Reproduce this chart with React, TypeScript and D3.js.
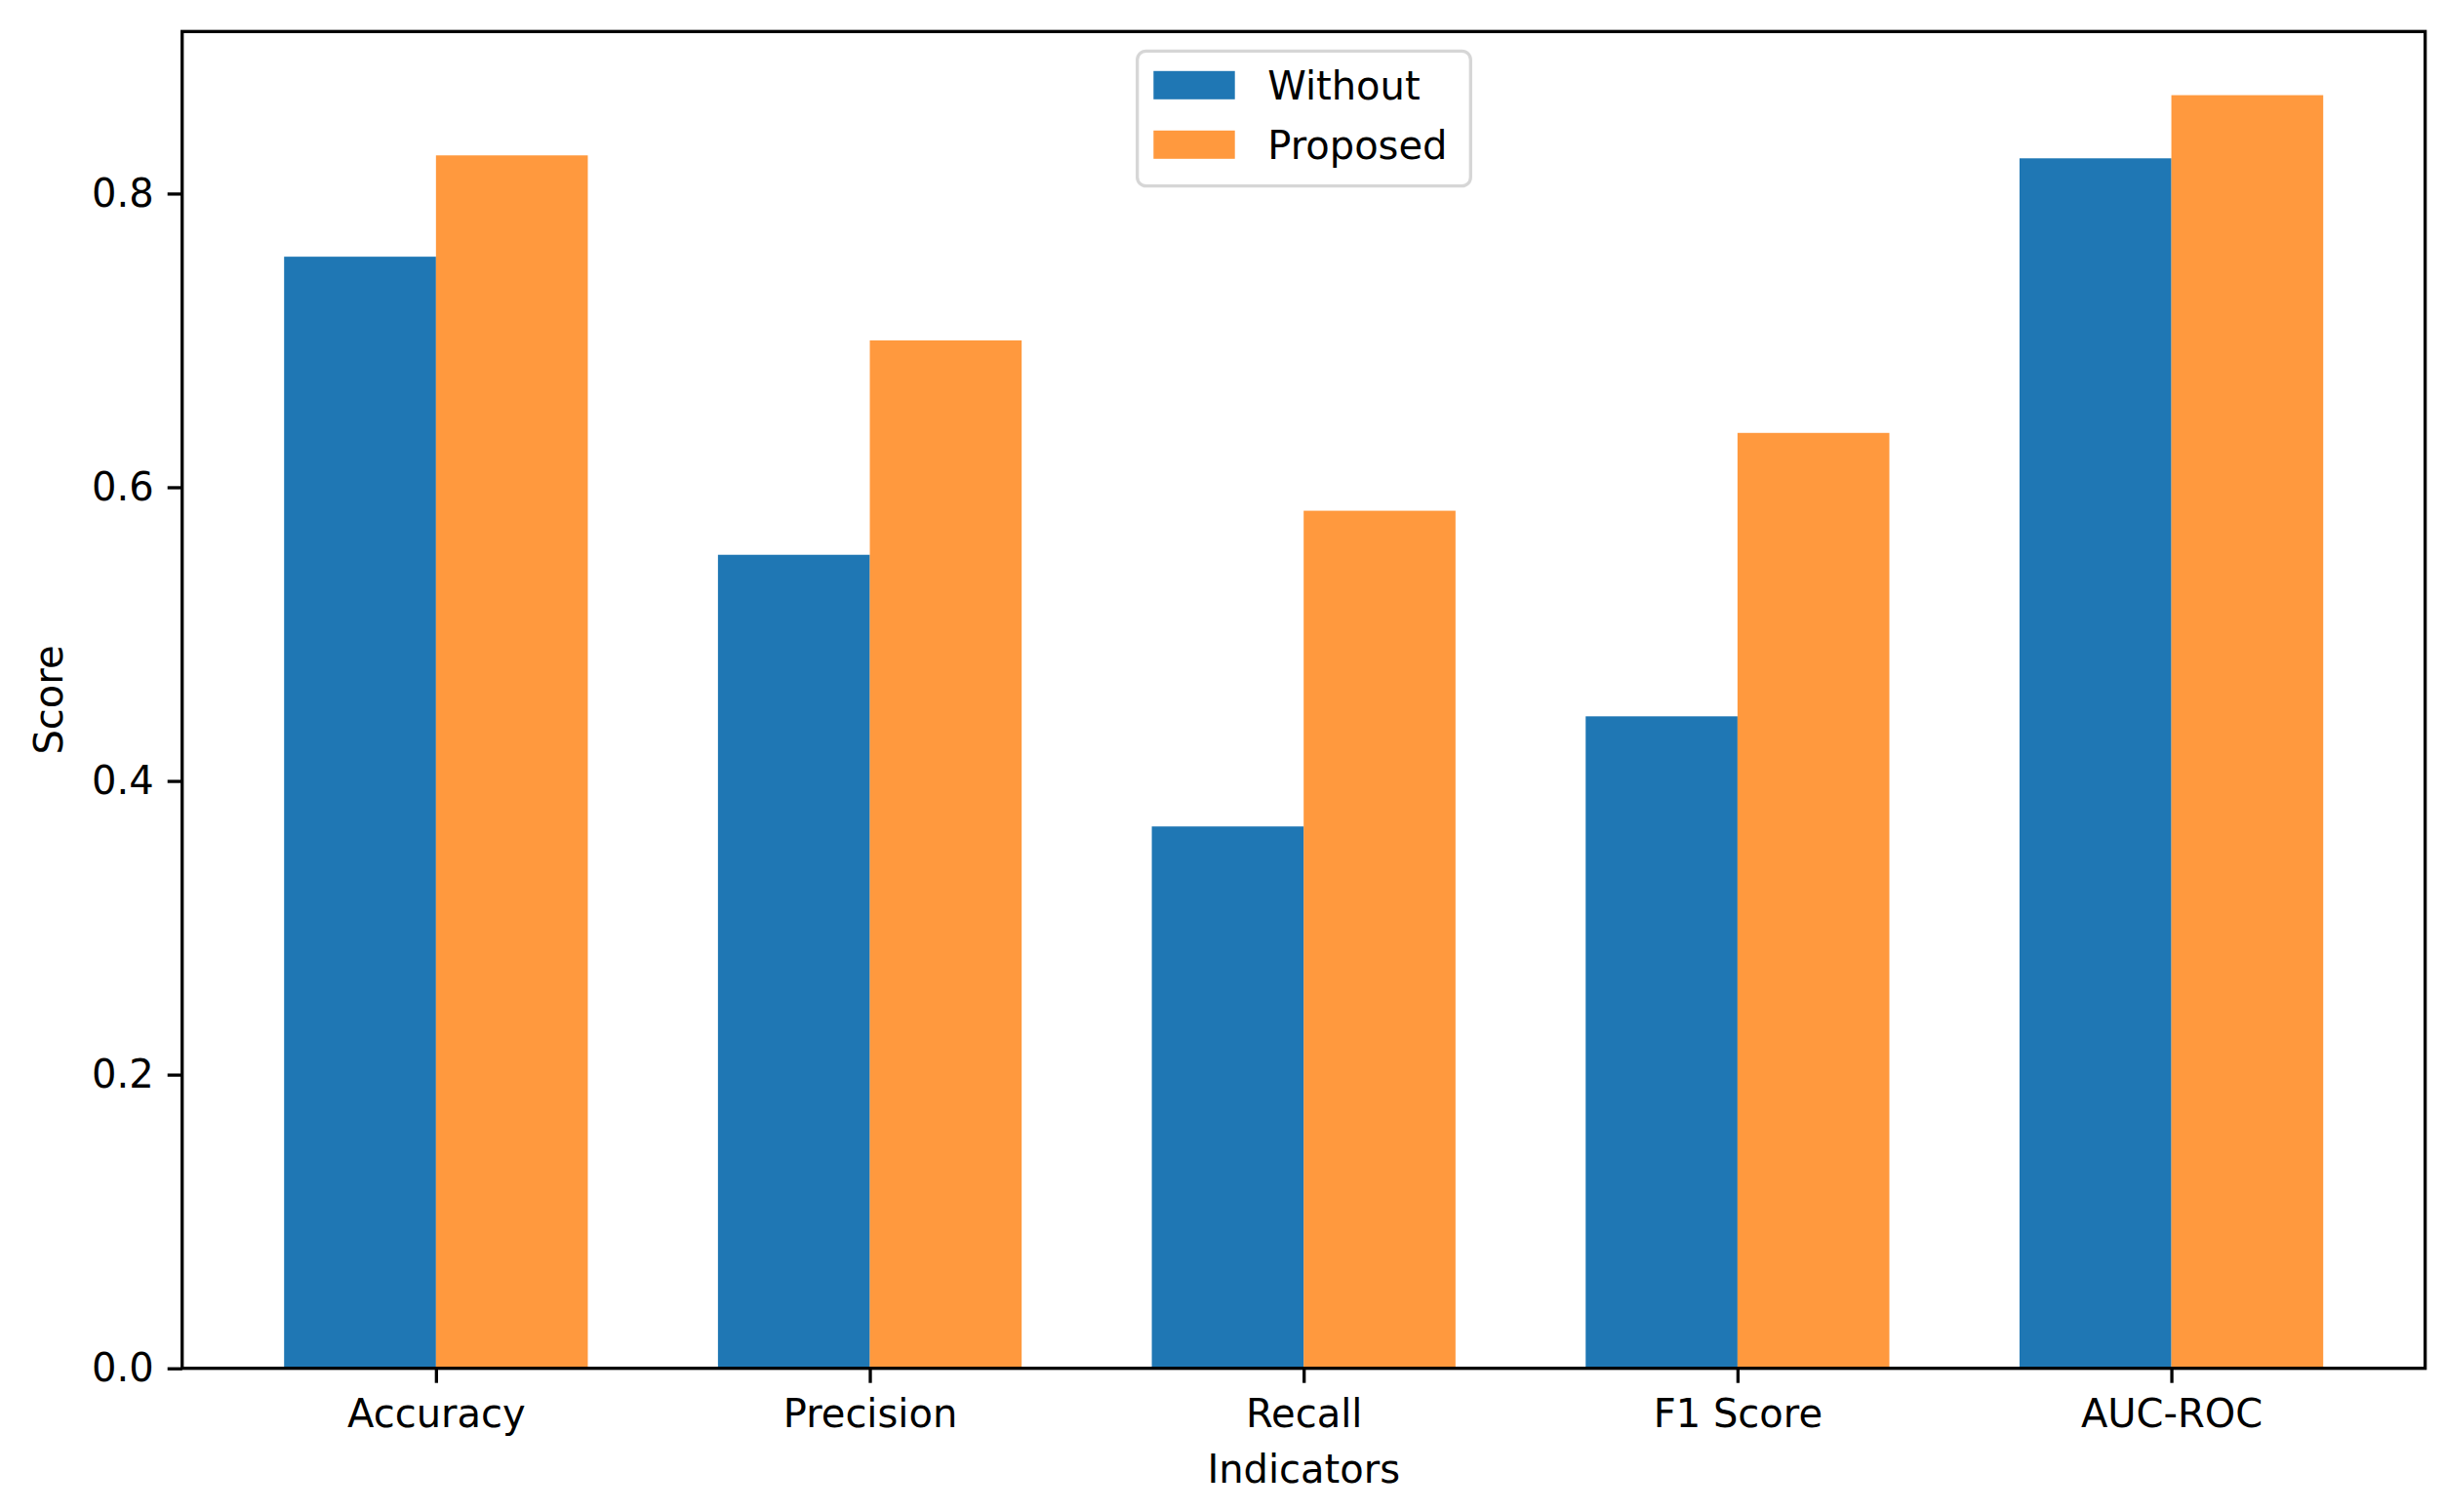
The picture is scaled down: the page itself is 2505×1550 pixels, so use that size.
import React from "react";
import { select, scaleLinear, axisLeft, axisBottom, format, max } from "d3";

const categories = ["Accuracy", "Precision", "Recall", "F1 Score", "AUC-ROC"];
const withoutScores = [0.757, 0.554, 0.369, 0.444, 0.824];
const proposedScores = [0.826, 0.7, 0.584, 0.637, 0.867];
const seriesNames = ["Without", "Proposed"];
const yTicks = [0, 0.2, 0.4, 0.6, 0.8];

const W = 2505;
const H = 1550;
const FONT = "'DejaVu Sans', sans-serif";
const FS = 40;

export default function App() {
  const svgRef = React.useRef<SVGSVGElement>(null);

  React.useEffect(() => {
    const svg = select(svgRef.current);
    svg.selectAll("*").remove();

    const left = 186.7;
    const right = 2485.7;
    const top = 32.3;
    const bottom = 1402.7;
    const barW = 0.35;

    const yMax = (max([...withoutScores, ...proposedScores]) as number) * 1.05;
    const x = scaleLinear()
      .domain([-barW - 0.235, categories.length - 1 + barW + 0.235])
      .range([left, right]);
    const y = scaleLinear().domain([0, yMax]).range([bottom, top]);

    const series = [
      { name: seriesNames[0], values: withoutScores, color: "#1f77b4", opacity: 1, off: -barW / 2 },
      { name: seriesNames[1], values: proposedScores, color: "#ff7f0e", opacity: 0.8, off: barW / 2 },
    ];

    // bars
    series.forEach((s) => {
      svg
        .append("g")
        .selectAll("rect")
        .data(s.values)
        .join("rect")
        .attr("x", (d, i) => x(i + s.off - barW / 2))
        .attr("width", x(barW) - x(0))
        .attr("y", (d) => y(d))
        .attr("height", (d) => y(0) - y(d))
        .attr("fill", s.color)
        .attr("fill-opacity", s.opacity);
    });

    // axes
    const gy = svg
      .append("g")
      .attr("transform", `translate(${left},0)`)
      .call(
        axisLeft(y)
          .tickValues(yTicks)
          .tickFormat((d) => format(".1f")(d as number))
          .tickSize(15)
          .tickSizeOuter(0)
          .tickPadding(14)
      );
    const gx = svg
      .append("g")
      .attr("transform", `translate(0,${bottom})`)
      .call(
        axisBottom(x)
          .tickValues(categories.map((_, i) => i))
          .tickFormat((d) => categories[d as number])
          .tickSize(15)
          .tickSizeOuter(0)
          .tickPadding(14)
      );
    [gy, gx].forEach((g) => {
      g.select(".domain").remove();
      g.selectAll(".tick line").attr("stroke", "#000").attr("stroke-width", 3.3);
      g.selectAll(".tick text")
        .attr("fill", "#000")
        .style("font-family", FONT)
        .style("font-size", `${FS}px`);
    });
    gx.selectAll(".tick text").attr("dy", null).attr("y", 60.5);

    // frame
    svg
      .append("rect")
      .attr("x", left)
      .attr("y", top)
      .attr("width", right - left)
      .attr("height", bottom - top)
      .attr("fill", "none")
      .attr("stroke", "#000")
      .attr("stroke-width", 3.3);

    // axis labels
    svg
      .append("text")
      .attr("x", (left + right) / 2)
      .attr("y", 1520)
      .attr("text-anchor", "middle")
      .style("font-family", FONT)
      .style("font-size", `${FS}px`)
      .text("Indicators");
    svg
      .append("text")
      .attr("transform", `translate(64,${(top + bottom) / 2}) rotate(-90)`)
      .attr("text-anchor", "middle")
      .style("font-family", FONT)
      .style("font-size", `${FS}px`)
      .text("Score");

    // legend
    const lg = svg.append("g");
    lg.append("rect")
      .attr("x", 1165.7)
      .attr("y", 52.3)
      .attr("width", 341.6)
      .attr("height", 138.4)
      .attr("rx", 9)
      .attr("fill", "#fff")
      .attr("fill-opacity", 0.8)
      .attr("stroke", "#d6d6d6")
      .attr("stroke-width", 3.3);
    series.forEach((s, i) => {
      const cy = 87.3 + i * 61;
      lg.append("rect")
        .attr("x", 1182.3)
        .attr("y", cy - 14.5)
        .attr("width", 83.4)
        .attr("height", 29)
        .attr("fill", s.color)
        .attr("fill-opacity", s.opacity);
      lg.append("text")
        .attr("x", 1299.3)
        .attr("y", cy + 14.5)
        .style("font-family", FONT)
        .style("font-size", `${FS}px`)
        .attr("fill", "#000")
        .text(s.name);
    });
  }, []);

  return (
    <svg
      ref={svgRef}
      width={W}
      height={H}
      style={{ position: "absolute", left: 0, top: 0, background: "#fff" }}
    />
  );
}
